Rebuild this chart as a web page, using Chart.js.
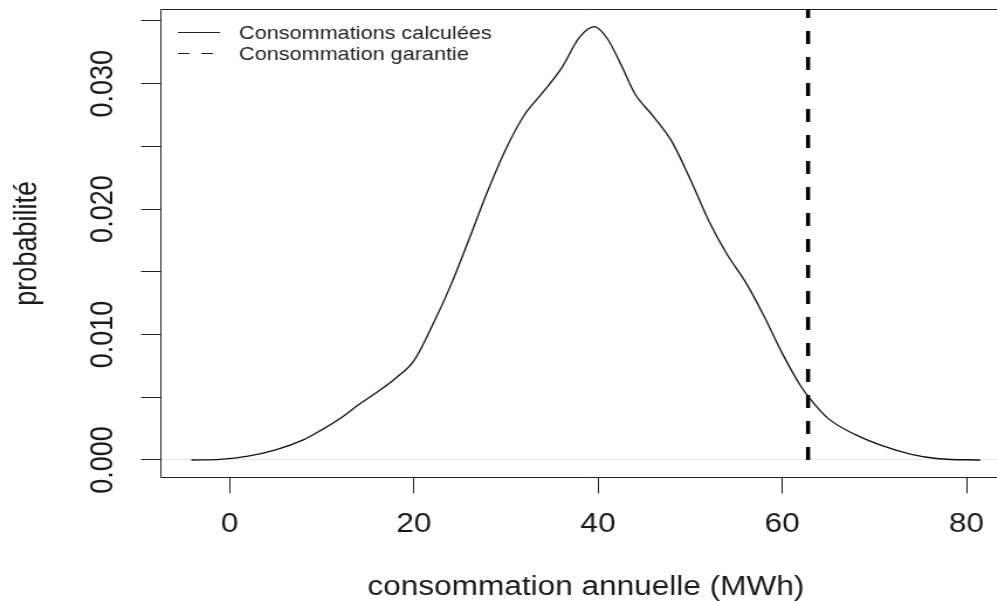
<!DOCTYPE html>
<html>
<head>
<meta charset="utf-8">
<script src="https://cdn.jsdelivr.net/npm/chart.js@4.4.1/dist/chart.umd.min.js"></script>
<style>
html,body{margin:0;padding:0;background:#fff;overflow:hidden;width:997px;height:601px;}
#wrap{position:absolute;left:0;top:0;width:880px;height:601px;transform:scaleX(1.17);transform-origin:0 0;}
canvas{display:block;}
</style>
</head>
<body>
<div id="wrap"><canvas id="c" width="880" height="601"></canvas></div>
<script>
// ---- data ----
const consumption = [-4.15, -1, 2, 5, 8, 10, 12, 14, 16, 18, 20, 22, 24, 26, 28, 30, 32, 34, 36, 38, 39.6, 41, 42.5, 44, 46, 48, 50, 52, 54, 56, 58, 60, 62, 63, 65, 68, 71, 74, 77, 81.5];
const density = [0, 0.00005, 0.0003, 0.0008, 0.0016, 0.0024, 0.0033, 0.0044, 0.0054, 0.0065, 0.0079, 0.0107, 0.0139, 0.0176, 0.0214, 0.0248, 0.0275, 0.0293, 0.0312, 0.0337, 0.03454, 0.0336, 0.0315, 0.0292, 0.0274, 0.0254, 0.0224, 0.0191, 0.0164, 0.0142, 0.0115, 0.0085, 0.0059, 0.0049, 0.0033, 0.0020, 0.0011, 0.00045, 0.0001, 0];
const guaranteedConsumption = 62.8;
const seriesLabels = ['Consommations calculées', 'Consommation garantie'];
const xTicks = [0, 20, 40, 60, 80];
const yTicks = [0, 0.005, 0.010, 0.015, 0.020, 0.025, 0.030, 0.035];
const yTickLabels = ['0.000', '', '0.010', '', '0.020', '', '0.030', ''];
const xTitle = 'consommation annuelle (MWh)';
const yTitle = 'probabilité';
const xRange = [-7.58, 84.93];
const yRange = [-0.00138, 0.03592];

const FONT = "'Liberation Sans', Arial, Helvetica, sans-serif";
const INK = '#1a1a1a';

const boxPlugin = {
  id: 'rbox',
  afterDraw(chart) {
    const {ctx, chartArea: a} = chart;
    ctx.save();
    ctx.strokeStyle = '#222';
    ctx.lineWidth = 1;
    ctx.beginPath();
    const l = Math.round(a.left) + 0.5, t = Math.round(a.top) + 0.5, b = Math.round(a.bottom) + 0.5, r = Math.round(a.right) + 0.5;
    ctx.moveTo(r, t); ctx.lineTo(l, t); ctx.lineTo(l, b); ctx.lineTo(r, b); ctx.lineTo(r, t);
    ctx.stroke();
    ctx.restore();
  }
};

const legendPlugin = {
  id: 'rlegend',
  afterDraw(chart, args, opts) {
    const {ctx} = chart;
    ctx.save();
    chart.data.datasets.forEach((ds, i) => {
      const ly = opts.lineY[i];
      ctx.strokeStyle = '#222';
      ctx.lineWidth = 1;
      ctx.setLineDash(ds.borderDash && ds.borderDash.length ? opts.legendDash : []);
      ctx.beginPath();
      ctx.moveTo(opts.lineX, ly);
      ctx.lineTo(opts.lineX + opts.lineLen, ly);
      ctx.stroke();
      ctx.setLineDash([]);
      ctx.fillStyle = '#222';
      ctx.font = opts.fontSize + 'px ' + FONT;
      ctx.textBaseline = 'alphabetic';
      ctx.textAlign = 'left';
      ctx.fillText(ds.label, opts.textX, opts.baseY[i]);
    });
    ctx.restore();
  }
};

new Chart(document.getElementById('c'), {
  type: 'scatter',
  data: {
    datasets: [
      {
        label: seriesLabels[0],
        data: consumption.map((x, i) => ({x: x, y: density[i]})),
        showLine: true,
        pointRadius: 0,
        borderColor: '#111',
        borderWidth: 1.3,
        cubicInterpolationMode: 'monotone',
        fill: false
      },
      {
        label: seriesLabels[1],
        data: [{x: guaranteedConsumption, y: 0}, {x: guaranteedConsumption, y: yRange[1]}],
        showLine: true,
        pointRadius: 0,
        borderColor: '#000',
        borderWidth: 3.5,
        borderDash: [13, 13],
        borderCapStyle: 'butt',
        fill: false
      }
    ]
  },
  options: {
    responsive: false,
    animation: false,
    devicePixelRatio: 1,
    layout: {padding: {top: 9.4, right: 15.1, left: 0, bottom: 0}},
    plugins: {
      legend: {display: false},
      tooltip: {enabled: false},
      rlegend: {lineX: 152, lineLen: 36, lineY: [32.5, 53.5], legendDash: [10, 10], textX: 204.3, baseY: [39.3, 60.3], fontSize: 18.5}
    },
    scales: {
      x: {
        type: 'linear',
        min: xRange[0],
        max: xRange[1],
        afterBuildTicks: s => { s.ticks = xTicks.map(v => ({value: v})); },
        afterFit: s => { s.height = 123.7; s.paddingLeft = 0; s.paddingRight = 0; },
        ticks: {
          font: {size: 27, family: FONT},
          color: INK,
          padding: 15.5,
          minRotation: 0,
          maxRotation: 0,
          autoSkip: false,
          callback: v => String(v)
        },
        grid: {drawOnChartArea: false, drawTicks: true, tickLength: 16, tickColor: '#222', lineWidth: 1},
        border: {display: false},
        title: {display: true, text: xTitle, color: INK, font: {size: 27, family: FONT}, padding: {top: 0, bottom: -3}}
      },
      y: {
        type: 'linear',
        min: yRange[0],
        max: yRange[1],
        afterBuildTicks: s => { s.ticks = yTicks.map(v => ({value: v})); },
        afterFit: s => { s.width = 136.5; s.paddingTop = 0; s.paddingBottom = 0; },
        ticks: {
          font: {size: 27, family: FONT},
          color: INK,
          padding: -2,
          minRotation: 90,
          maxRotation: 90,
          crossAlign: 'center',
          autoSkip: false,
          callback: (v) => {
            const i = yTicks.findIndex(t => Math.abs(t - v) < 1e-9);
            return i >= 0 ? yTickLabels[i] : '';
          }
        },
        grid: {
          drawOnChartArea: true,
          drawTicks: true,
          tickLength: 16,
          tickColor: '#222',
          lineWidth: 1,
          color: c => (c.tick && Math.abs(c.tick.value) < 1e-12) ? '#e9e9e9' : 'rgba(0,0,0,0)'
        },
        border: {display: false},
        title: {display: true, text: yTitle, color: INK, font: {size: 27, family: FONT}, padding: {top: 7, bottom: 0}}
      }
    }
  },
  plugins: [boxPlugin, legendPlugin]
});
</script>
</body>
</html>
